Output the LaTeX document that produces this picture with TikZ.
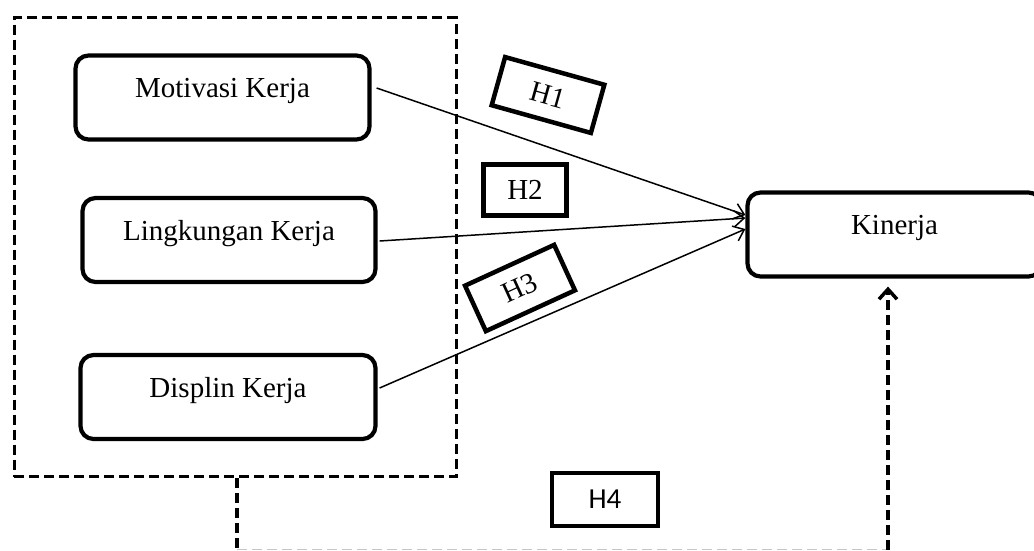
\documentclass[tikz,border=0pt]{standalone}
\usepackage{fontspec}
\setmainfont{Liberation Serif}
\newfontfamily\hfourfont{Carlito}
\usetikzlibrary{arrows.meta,calc}
\begin{document}
\begin{tikzpicture}[x=1pt,y=-1pt,
 varbox/.style={draw,line width=4.2pt,rounded corners=13pt,minimum width=296pt,minimum height=84pt,inner sep=0pt},
 lbl/.style={font=\fontsize{29}{34}\selectfont,inner sep=0pt,anchor=base},
 hbox/.style={draw,line width=4.5pt,inner sep=0pt,font=\fontsize{29}{34}\selectfont},
 arr/.style={line width=1.5pt,-{Straight Barb[length=10pt,width=16pt,line width=1.5pt]}},
 dline/.style={line width=3.8pt,dash pattern=on 10pt off 5pt}
]
\useasboundingbox (0,0) rectangle (1034,550);
% group frame
\node[draw,dline,minimum width=442pt,minimum height=459pt,inner sep=0pt] (grp) at (235.4,247) {};
% variable boxes
\node[varbox,minimum width=294pt] (mk) at (222.5,97.5) {};
\node[lbl] (mkt) at (mk.center) {Motivasi Kerja};
\node[varbox,minimum width=293pt] (lk) at (229,240) {};
\node[lbl] (lkt) at (lk.center) {Lingkungan Kerja};
\node[varbox,minimum width=295pt] (dk) at (228,397) {};
\node[lbl] (dkt) at (dk.center) {Displin Kerja};
\node[varbox,minimum width=294pt] (k) at (894.5,234.5) {};
\node[lbl] (kt) at (k.center) {Kinerja};
% hypothesis labels
\node[hbox,minimum width=103pt,minimum height=50pt,rotate=-15.6] (h1) at (548,95) {H1};
\node[hbox,minimum width=83pt,minimum height=51pt] (h2) at (525,190) {H2};
\node[hbox,minimum width=98pt,minimum height=50pt,rotate=24.6] (h3) at (520,288) {H3};
\node[hbox,line width=4pt,minimum width=106pt,minimum height=53pt,font=\hfourfont\fontsize{29}{34}\selectfont] (h4) at (605,499) {H4};
% arrows
\draw[arr] ([xshift=5pt,yshift=9.5pt]mk.east) -- ([yshift=19.5pt]k.west);
\draw[arr] ([xshift=2pt,yshift=-1pt]lk.east) -- ([yshift=16.5pt]k.west);
\draw[arr] ([xshift=2pt,yshift=9pt]dk.east) -- ([yshift=5.5pt]k.west);
% simultaneous path
\coordinate (c1) at (237,549.5);
\coordinate (c2) at (888,549.5);
\draw[dline] (grp.south -| c1) -- (c1);
\draw[gray!45,line width=1pt,dash pattern=on 10pt off 5pt] (c1) -- (c2);
\draw[dline,-{Straight Barb[length=10pt,width=18pt,line width=3.5pt]}] (c2) -- ([yshift=-8pt]k.south -| c2);
\end{tikzpicture}
\end{document}
